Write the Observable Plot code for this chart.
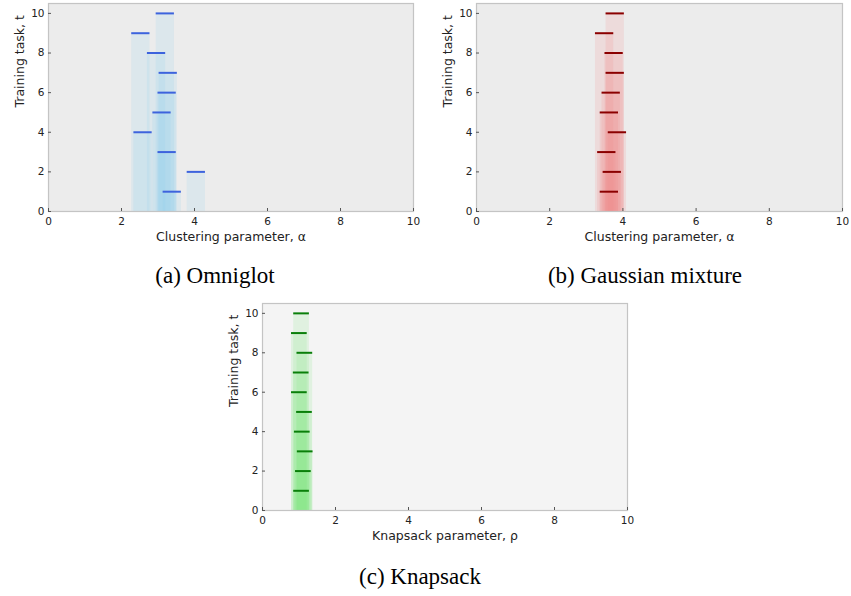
<!DOCTYPE html>
<html>
<head>
<meta charset="utf-8">
<script src="https://cdn.jsdelivr.net/npm/d3@7"></script>
<script src="https://cdn.jsdelivr.net/npm/@observablehq/plot@0.6"></script>
<style>
  html, body { margin: 0; padding: 0; background: #fff; }
  #page { position: relative; width: 851px; height: 596px; overflow: hidden; }
  .caption { position: absolute; font-family: "Liberation Serif", "Times New Roman", serif; font-size: 23px; line-height: 26px; color: #000; white-space: nowrap; transform: translateX(-50%); }
</style>
</head>
<body>
<div id="page"></div>
<script>
// ---- data ----
const tasks = [1, 2, 3, 4, 5, 6, 7, 8, 9, 10];
const omniglotAlpha = [3.39, 4.05, 3.25, 2.59, 3.11, 3.25, 3.28, 2.96, 2.53, 3.20];
const gaussianAlpha = [3.63, 3.71, 3.56, 3.85, 3.63, 3.68, 3.79, 3.76, 3.50, 3.79];
const knapsackRho   = [1.07, 1.12, 1.17, 1.09, 1.15, 1.01, 1.06, 1.16, 1.01, 1.07];
const xTicks = [0, 2, 4, 6, 8, 10];
const yTicks = [0, 2, 4, 6, 8, 10];
const captions = ["(a) Omniglot", "(b) Gaussian mixture", "(c) Knapsack"];
const xLabels = ["Clustering parameter, α", "Clustering parameter, α", "Knapsack parameter, ρ"];
const yLabel = "Training task, t";

const page = document.getElementById("page");

function panel({values, halfWidth, barFill, lineStroke, bg, xLabel, left, top, width, height, ml, mr, mt, mb}) {
  const data = tasks.map((t, i) => ({t, v: values[i]}));
  const chart = Plot.plot({
    width, height,
    marginLeft: ml, marginRight: mr, marginTop: mt, marginBottom: mb,
    style: {fontFamily: "'DejaVu Sans', sans-serif", fontSize: "10px", color: "#222", background: "transparent"},
    x: {domain: [0, 10]},
    y: {domain: [0, 10.5]},
    marks: [
      Plot.frame({fill: bg}),
      Plot.rectY(data, {x1: d => d.v - halfWidth, x2: d => d.v + halfWidth, y1: 0, y2: "t", fill: barFill, fillOpacity: 0.16}),
      Plot.ruleY(data, {y: "t", x1: d => d.v - halfWidth, x2: d => d.v + halfWidth, stroke: lineStroke, strokeWidth: 2}),
      Plot.frame({stroke: "#c4c4c4", strokeWidth: 1.2}),
      Plot.axisX({ticks: xTicks, tickSize: -3, tickPadding: 9, stroke: "#555", label: null, fontSize: 10.5}),
      Plot.axisY({ticks: yTicks, tickSize: -3, tickPadding: 7, stroke: "#555", label: null, fontSize: 10.5}),
      Plot.text([xLabel], {text: d => d, frameAnchor: "bottom", lineAnchor: "middle", dy: 25, fontSize: 12.5, fill: "#222"}),
      Plot.text([yLabel], {text: d => d, frameAnchor: "left", lineAnchor: "middle", dx: -29, rotate: -90, fontSize: 12.5, fill: "#222"})
    ]
  });
  chart.style.position = "absolute";
  chart.style.left = left + "px";
  chart.style.top = top + "px";
  page.appendChild(chart);
}

panel({values: omniglotAlpha, halfWidth: 0.25, barFill: "#87ceeb", lineStroke: "#3d63dd", bg: "#ececec",
  xLabel: xLabels[0], left: 0, top: 0, width: 430, height: 250, ml: 48, mr: 17, mt: 3, mb: 39});
panel({values: gaussianAlpha, halfWidth: 0.25, barFill: "#f08080", lineStroke: "#8b0000", bg: "#ececec",
  xLabel: xLabels[1], left: 430, top: 0, width: 421, height: 250, ml: 46, mr: 9, mt: 3, mb: 39});
panel({values: knapsackRho, halfWidth: 0.215, barFill: "#7ee87e", lineStroke: "#0a7f0a", bg: "#f4f4f4",
  xLabel: xLabels[2], left: 215, top: 300, width: 430, height: 250, ml: 47, mr: 18, mt: 3, mb: 40});

const capPos = [[215, 263], [645, 263], [420, 564]];
captions.forEach((c, i) => {
  const d = document.createElement("div");
  d.className = "caption";
  d.textContent = c;
  d.style.left = capPos[i][0] + "px";
  d.style.top = capPos[i][1] + "px";
  page.appendChild(d);
});
</script>
</body>
</html>
